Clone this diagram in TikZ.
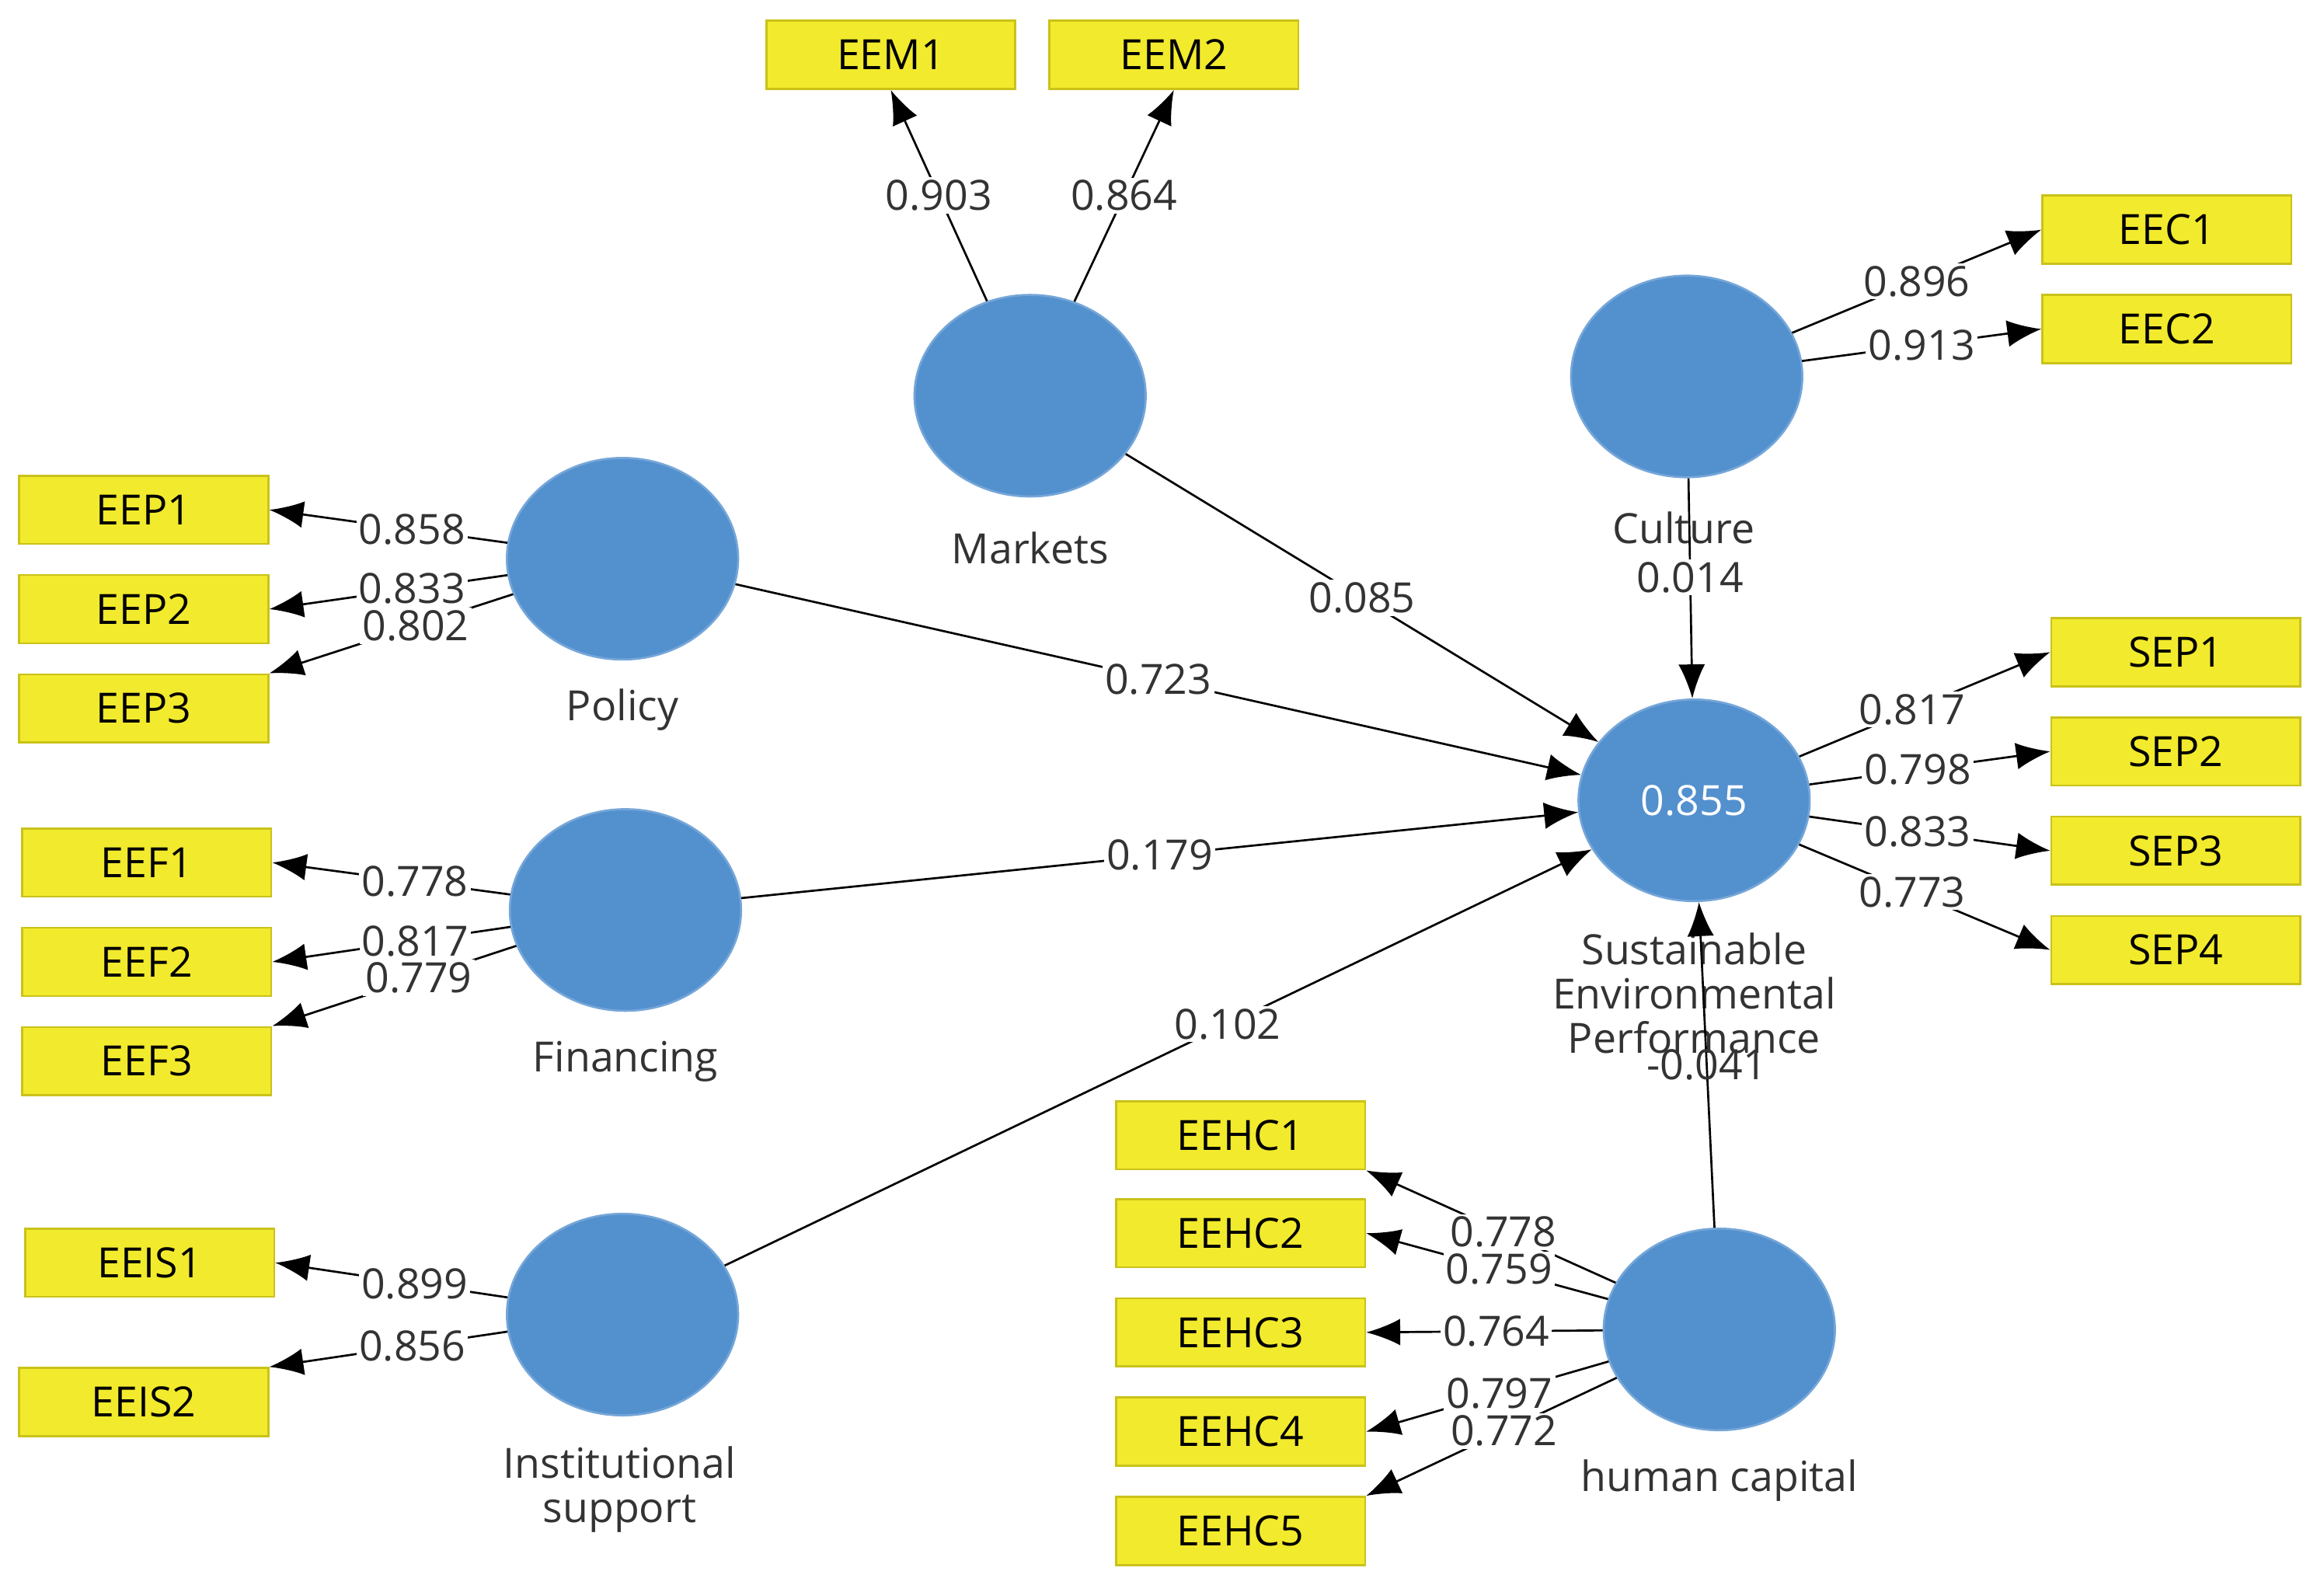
\documentclass[tikz,border=0pt]{standalone}
\usepackage{fontspec}
\setmainfont{Open Sans}
\usetikzlibrary{arrows.meta, shapes.geometric}
\definecolor{lvblue}{HTML}{5390CE}
\definecolor{mvyellow}{HTML}{F2EA2C}
\definecolor{mvedge}{HTML}{C9C21A}
\begin{document}
\begin{tikzpicture}[>={Latex[length=2.3mm,width=1.8mm]}, font=\fontsize{8}{9.5}\selectfont]
				\tikzstyle{latent} = [ellipse, fill=lvblue, draw=lvblue!80!white, minimum width=1.56cm, minimum height=1.36cm]
				\tikzstyle{item} = [rectangle, fill=mvyellow, draw=mvedge, minimum width=1.68cm, minimum height=0.46cm, inner sep=0pt]
				\tikzstyle{invis} = [draw=none, align=center, text=black!80]
				\tikzstyle{coef} = [fill=white, inner sep=0.5pt, text=black!80]
				\useasboundingbox (0,0) rectangle (15.68,-10.69);

				% latent variables
				\node[latent]	at (6.95,-2.67)		(mar)	{};
				\node[latent]	at (11.38,-2.54)	(cul)	{};
				\node[latent]	at (4.20,-3.77)		(pol)	{};
				\node[latent]	at (4.22,-6.14)		(fin)	{};
				\node[latent]	at (4.20,-8.87)		(ins)	{};
				\node[latent]	at (11.43,-5.40)	(sep)	{\textcolor{white}{0.855}};
				\node[latent]	at (11.60,-8.97)	(hum)	{};

				\node[invis]	at (6.95,-3.70)		(lmar)	{Markets};
				\node[invis]	at (11.36,-3.56)	(lcul)	{Culture};
				\node[invis]	at (4.20,-4.79)		(lpol)	{Policy};
				\node[invis]	at (4.22,-7.16)		(lfin)	{Financing};
				\node[invis]	at (4.18,-10.05)	(lins)	{Institutional\\[-1pt]support};
				\node[invis]	at (11.43,-6.70)	(lsep)	{Sustainable\\[-1pt]Environmental\\[-1pt]Performance};
				\node[invis]	at (11.60,-9.99)	(lhum)	{human capital};

				% indicators
				\node[item]	at (6.01,-0.37)		(eem1)	{EEM1};
				\node[item]	at (7.92,-0.37)		(eem2)	{EEM2};
				\node[item]	at (14.62,-1.55)	(eec1)	{EEC1};
				\node[item]	at (14.62,-2.22)	(eec2)	{EEC2};
				\node[item]	at (0.97,-3.44)		(eep1)	{EEP1};
				\node[item]	at (0.97,-4.11)		(eep2)	{EEP2};
				\node[item]	at (0.97,-4.78)		(eep3)	{EEP3};
				\node[item]	at (0.99,-5.82)		(eef1)	{EEF1};
				\node[item]	at (0.99,-6.49)		(eef2)	{EEF2};
				\node[item]	at (0.99,-7.16)		(eef3)	{EEF3};
				\node[item]	at (1.01,-8.52)		(eeis1)	{EEIS1};
				\node[item]	at (0.97,-9.46)		(eeis2)	{EEIS2};
				\node[item]	at (14.68,-4.40)	(sep1)	{SEP1};
				\node[item]	at (14.68,-5.07)	(sep2)	{SEP2};
				\node[item]	at (14.68,-5.74)	(sep3)	{SEP3};
				\node[item]	at (14.68,-6.41)	(sep4)	{SEP4};
				\node[item]	at (8.37,-7.66)		(eehc1)	{EEHC1};
				\node[item]	at (8.37,-8.32)		(eehc2)	{EEHC2};
				\node[item]	at (8.37,-8.99)		(eehc3)	{EEHC3};
				\node[item]	at (8.37,-9.66)		(eehc4)	{EEHC4};
				\node[item]	at (8.37,-10.33)	(eehc5)	{EEHC5};

				% outer loadings
				\path[->]
				(mar)	edge	node[coef] {0.903}	(eem1.south)
				(mar)	edge	node[coef] {0.864}	(eem2.south)
				(cul)	edge	node[coef] {0.896}	(eec1.west)
				(cul)	edge	node[coef] {0.913}	(eec2.west)
				(pol)	edge	node[coef, pos=0.4] {0.858}	(eep1.east)
				(pol)	edge	node[coef, pos=0.4] {0.833}	(eep2.east)
				(pol)	edge	node[coef, pos=0.4] {0.802}	(eep3.north east)
				(fin)	edge	node[coef, pos=0.4] {0.778}	(eef1.east)
				(fin)	edge	node[coef, pos=0.4] {0.817}	(eef2.east)
				(fin)	edge	node[coef, pos=0.4] {0.779}	(eef3.north east)
				(ins)	edge	node[coef, pos=0.4] {0.899}	(eeis1.east)
				(ins)	edge	node[coef, pos=0.4] {0.856}	(eeis2.north east)
				(sep)	edge	node[coef, pos=0.45] {0.817}	(sep1.west)
				(sep)	edge	node[coef, pos=0.45] {0.798}	(sep2.west)
				(sep)	edge	node[coef, pos=0.45] {0.833}	(sep3.west)
				(sep)	edge	node[coef, pos=0.45] {0.773}	(sep4.west)
				(hum)	edge	node[coef, pos=0.45] {0.778}	(eehc1.south east)
				(hum)	edge	node[coef, pos=0.45] {0.759}	(eehc2.east)
				(hum)	edge	node[coef, pos=0.45] {0.764}	(eehc3.east)
				(hum)	edge	node[coef, pos=0.45] {0.797}	(eehc4.east)
				(hum)	edge	node[coef, pos=0.45] {0.772}	(eehc5.north east);

				% inner model
				\path[->]
				(mar)	edge	node[coef] {0.085}	(sep)
				(cul)	edge	node[coef, pos=0.45] {0.014}	(sep)
				(pol)	edge	node[coef] {0.723}	(sep)
				(fin)	edge	node[coef] {0.179}	(sep)
				(ins)	edge	node[coef, pos=0.58] {0.102}	(sep)
				(hum)	edge	node[coef, pos=0.5, fill=none] {-0.041}	(sep);
			\end{tikzpicture}
\end{document}
